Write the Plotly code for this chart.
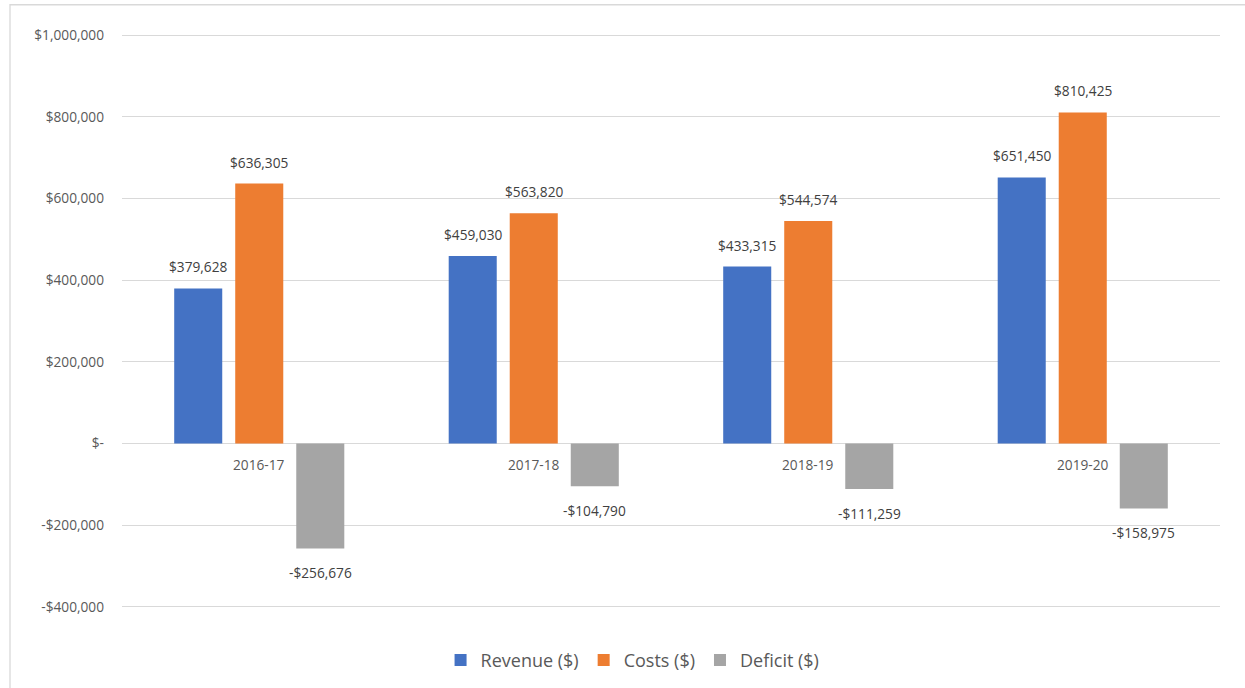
import plotly.graph_objects as go

categories = ["2016-17", "2017-18", "2018-19", "2019-20"]
revenue = [379628, 459030, 433315, 651450]
costs = [636305, 563820, 544574, 810425]
deficit = [-256676, -104790, -111259, -158975]
series_names = ["Revenue ($)", "Costs ($)", "Deficit ($)"]
colors = ["#4472C4", "#ED7D31", "#A5A5A5"]
tick_vals = [1000000, 800000, 600000, 400000, 200000, 0, -200000, -400000]
tick_text = ["$1,000,000", "$800,000", "$600,000", "$400,000", "$200,000", "$-", "-$200,000", "-$400,000"]

FONT = "Open Sans"

def money(v):
    return f"${v:,.0f}" if v >= 0 else f"-${abs(v):,.0f}"

fig = go.Figure()
all_series = [revenue, costs, deficit]
for name, vals, col in zip(series_names, all_series, colors):
    fig.add_trace(go.Bar(x=categories, y=vals, name=name, marker_color=col,
                         marker_line_width=0, hoverinfo="skip"))

annotations = []
slot_px = 61
for i, vals in enumerate(all_series):
    for c, v in zip(categories, vals):
        annotations.append(dict(
            x=c, y=v, xref="x", yref="y", text=money(v), showarrow=False,
            xshift=(i - 1) * slot_px, yshift=21.5 if v >= 0 else -24,
            yanchor="middle", xanchor="center",
            font=dict(family=FONT, size=13.7, color="#404040")))
for c in categories:
    annotations.append(dict(x=c, y=0, xref="x", yref="y", text=c, showarrow=False,
                            yshift=-21, yanchor="middle", xanchor="center",
                            font=dict(family=FONT, size=13.7, color="#595959")))

fig.update_layout(
    width=1245, height=688,
    margin=dict(l=122, r=25, t=34, b=80, autoexpand=False),
    paper_bgcolor="white", plot_bgcolor="white",
    barmode="group", bargap=0.333, bargroupgap=0.213,
    font=dict(family=FONT, size=13.7, color="#595959"),
    xaxis=dict(showticklabels=False, showgrid=False, zeroline=False, showline=False,
               ticks=""),
    yaxis=dict(range=[-402500, 1002500], tickvals=tick_vals, ticktext=tick_text,
               showgrid=True, gridcolor="#D9D9D9", gridwidth=1.3, zeroline=False,
               showline=False, ticks="", ticklabelstandoff=17,
               tickfont=dict(family=FONT, size=13.7, color="#595959")),
    legend=dict(orientation="h", x=0.465, xanchor="center", y=-0.091, yanchor="middle",
                font=dict(family=FONT, size=18, color="#595959"),
                itemwidth=30, traceorder="normal"),
    annotations=annotations,
    shapes=[dict(type="rect", xref="paper", yref="paper",
                 x0=-0.102, x1=1.2, y0=-0.3, y1=1.051,
                 line=dict(color="#D9D9D9", width=1.3), fillcolor="rgba(0,0,0,0)",
                 layer="below")],
)

fig.write_html("out.html", config={"displayModeBar": False},
               post_script="document.body.style.margin='0';")
